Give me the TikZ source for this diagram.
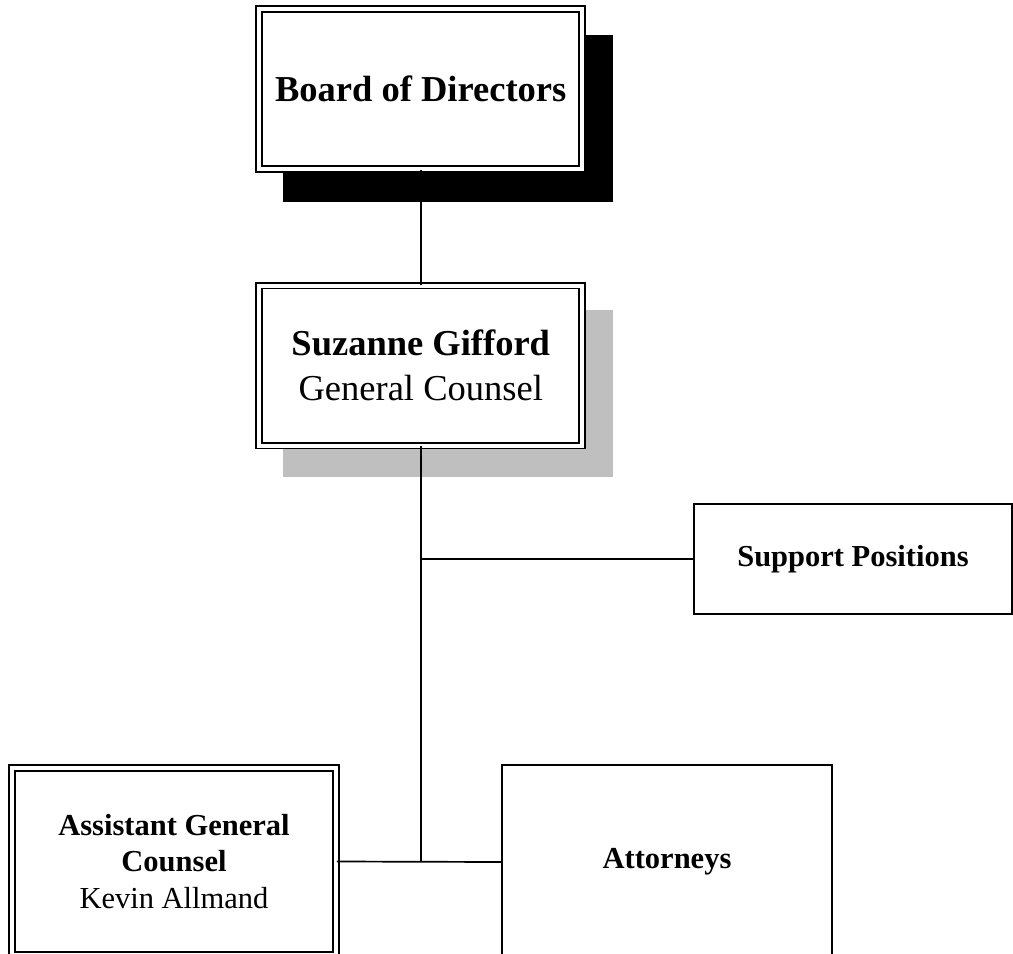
\documentclass[tikz,border=0pt]{standalone}
\usepackage{fontspec}
\setmainfont{Liberation Serif}
\begin{document}
\begin{tikzpicture}[x=1pt,y=-1pt,
  dbox/.style={draw, double, double distance=4pt, line width=1.9pt, fill=white, inner sep=0pt, align=center},
  sbox/.style={draw, line width=2pt, fill=white, inner sep=0pt, align=center},
  conn/.style={line width=1.7pt},
  big/.style={font=\fontsize{36.5}{45}\selectfont},
  mid/.style={font=\fontsize{30.5}{36.5}\selectfont}]
\useasboundingbox (0,0) rectangle (1013,954);
% shadows
\fill[black] (283,35) rectangle (613,202);
\fill[black!25] (283,310) rectangle (613,477);
% nodes
\node[dbox, big, minimum width=323pt, minimum height=160pt] (bod) at (420.75,89) {\textbf{Board of Directors}};
\node[dbox, big, minimum width=323pt, minimum height=160pt] (sg) at (420.75,365.5) {\textbf{Suzanne Gifford}\\General Counsel};
\node[sbox, mid, minimum width=318pt, minimum height=110pt] (sp) at (853,559) {\textbf{Support Positions}};
\node[dbox, mid, minimum width=324pt, minimum height=187pt] (agc) at (174,861.5) {\textbf{Assistant General}\\\textbf{Counsel}\\Kevin Allmand};
\node[sbox, mid, minimum width=330pt, minimum height=194pt] (att) at (667,862) {\textbf{Attorneys}};
% connectors
\coordinate (j1) at (sg.south |- sp.west);
\coordinate (j2) at (sg.south |- agc.east);
\draw[conn] (bod.south) -- (sg.north);
\draw[conn] (sg.south) -- (j2);
\draw[conn] (j1) -- (sp.west);
\draw[conn] (agc.east) -- (att.west);
\end{tikzpicture}
\end{document}
